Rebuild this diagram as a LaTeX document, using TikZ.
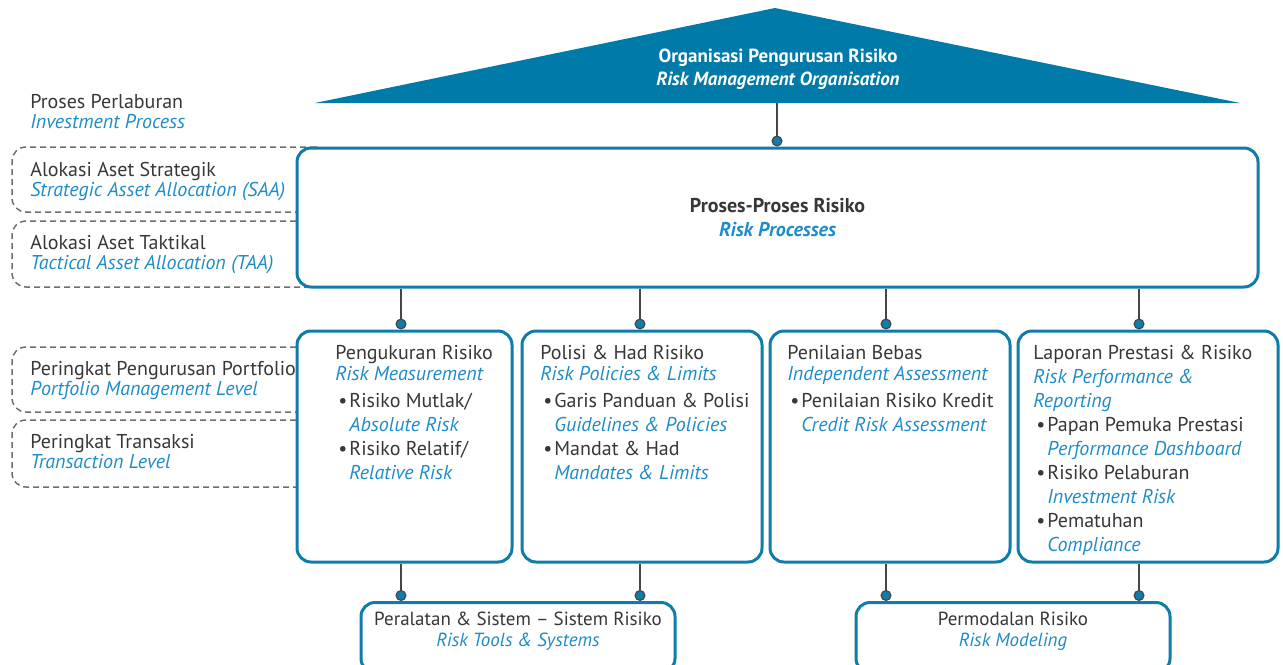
\documentclass[tikz,border=0pt]{standalone}
\usepackage{fontspec}
\setmainfont{PT Sans}
\usetikzlibrary{arrows.meta}
\definecolor{roofblue}{RGB}{0,122,168}
\definecolor{lineblue}{RGB}{16,124,170}
\definecolor{engblue}{RGB}{30,140,200}
\definecolor{txtgray}{RGB}{55,55,55}
\definecolor{dashgray}{RGB}{110,110,110}
\definecolor{linkgray}{RGB}{70,70,70}
\newcommand{\en}[1]{{\color{engblue}\itshape #1}}
\newcommand{\bul}{\hspace*{1.5pt}\makebox[5.5pt][l]{\textbullet}}
\newcommand{\ind}{\hspace*{7pt}}

\begin{document}
\begin{tikzpicture}[x=0.5pt, y=-0.5pt,
    every node/.style={font=\fontsize{10}{12}\selectfont, text=txtgray},
    riskbox/.style={draw=lineblue, line width=1.5pt, rounded corners=7pt, fill=white, inner sep=0pt},
    lvlbox/.style={draw=dashgray, line width=0.75pt, dash pattern=on 3pt off 2pt, rounded corners=7pt, inner sep=0pt, minimum width=159pt},
    link/.style={draw=linkgray, line width=0.6pt, -{Circle[length=5.5pt, fill=lineblue]}},
    lbl/.style={anchor=north west, align=left, inner sep=0pt},
    side/.style={lbl, font=\fontsize{10}{10}\selectfont}]
    \useasboundingbox (0,0) rectangle (1283,664);

    % roof
    \fill[roofblue] (315,103) -- (775,8) -- (1240,103) -- cycle;
    \node[align=center, text=white, font=\fontsize{9.5}{11.5}\selectfont\bfseries] (org) at (778,69)
        {Organisasi Pengurusan Risiko\\\textit{Risk Management Organisation}};
    \coordinate (roof) at (777,103);

    % investment process levels
    \node[side] (inv) at (30,94) {Proses Perlaburan\\\en{Investment Process}};
    \node[lvlbox, minimum height=32.5pt] (lvl1) at (171,179.5) {};
    \node[lvlbox, minimum height=33pt] (lvl2) at (171,254) {};
    \node[lvlbox, minimum height=32.5pt] (lvl3) at (171,379.5) {};
    \node[lvlbox, minimum height=33.5pt] (lvl4) at (171,453.5) {};
    \node[side] (saa) at (30,162) {Alokasi Aset Strategik\\\en{Strategic Asset Allocation (SAA)}};
    \node[side] (taa) at (30,235) {Alokasi Aset Taktikal\\\en{Tactical Asset Allocation (TAA)}};
    \node[side] (pml) at (30,361) {Peringkat Pengurusan Portfolio\\\en{Portfolio Management Level}};
    \node[side] (trl) at (30,434) {Peringkat Transaksi\\\en{Transaction Level}};

    % risk processes
    \node[riskbox, minimum width=480.5pt, minimum height=69.5pt, align=center] (proc) at (777.5,217.5)
        {\textbf{Proses-Proses Risiko}\\\en{\bfseries Risk Processes}};

    % row of four
    \node[riskbox, minimum width=107.5pt, minimum height=115.5pt] (m1) at (404.5,446.5) {};
    \node[riskbox, minimum width=120pt, minimum height=115.5pt] (m2) at (642,446.5) {};
    \node[riskbox, minimum width=120pt, minimum height=115.5pt] (m3) at (890,446.5) {};
    \node[riskbox, minimum width=130pt, minimum height=115.5pt] (m4) at (1148,446.5) {};
    \node[lbl] (m1t) at (335,345) {Pengukuran Risiko\\[-1.5pt]\en{Risk Measurement}\\[1.5pt]
        \bul Risiko Mutlak/\\\ind\en{Absolute Risk}\\\bul Risiko Relatif/\\\ind\en{Relative Risk}};
    \node[lbl] (m2t) at (540,345) {Polisi \& Had Risiko\\[-1.5pt]\en{Risk Policies \& Limits}\\[1.5pt]
        \bul Garis Panduan \& Polisi\\\ind\en{Guidelines \& Policies}\\\bul Mandat \& Had\\\ind\en{Mandates \& Limits}};
    \node[lbl] (m3t) at (787,345) {Penilaian Bebas\\[-1.5pt]\en{Independent Assessment}\\[1.5pt]
        \bul Penilaian Risiko Kredit\\\ind\en{Credit Risk Assessment}};
    \node[lbl] (m4t) at (1033,345) {Laporan Prestasi \& Risiko\\\en{Risk Performance \&}\\\en{Reporting}\\
        \bul Papan Pemuka Prestasi\\\ind\en{Performance Dashboard}\\\bul Risiko Pelaburan\\\ind\en{Investment Risk}\\
        \bul Pematuhan\\\ind\en{Compliance}};

    % bottom row
    \node[riskbox, minimum width=157pt, minimum height=35pt] (b1) at (518,637.5) {};
    \node[riskbox, minimum width=157pt, minimum height=35pt] (b2) at (1013,637.5) {};
    \node[align=center, font=\fontsize{9.5}{10.5}\selectfont] (b1t) at (518,631.5)
        {Peralatan \& Sistem -- Sistem Risiko\\\en{Risk Tools \& Systems}};
    \node[align=center, font=\fontsize{9.5}{10.5}\selectfont] (b2t) at (1013,631.5)
        {Permodalan Risiko\\\en{Risk Modeling}};

    % links
    \coordinate (k1) at (401,0);
    \coordinate (k2) at (640,0);
    \coordinate (k3) at (886,0);
    \coordinate (k4) at (1139,0);
    \draw[link] (roof) -- (proc.north -| roof);
    \draw[link] (proc.south -| k1) -- (m1.north -| k1);
    \draw[link] (proc.south -| k2) -- (m2.north -| k2);
    \draw[link] (proc.south -| k3) -- (m3.north -| k3);
    \draw[link] (proc.south -| k4) -- (m4.north -| k4);
    \draw[link] (m1.south -| k1) -- (b1.north -| k1);
    \draw[link] (m2.south -| k2) -- (b1.north -| k2);
    \draw[link] (m3.south -| k3) -- (b2.north -| k3);
    \draw[link] (m4.south -| k4) -- (b2.north -| k4);
\end{tikzpicture}
\end{document}
